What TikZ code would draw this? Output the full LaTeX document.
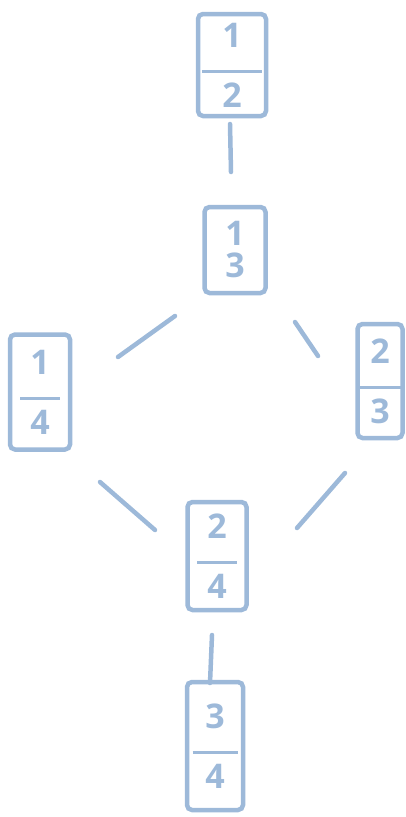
\documentclass[tikz,border=0pt]{standalone}
\usepackage{fontspec}
\setmainfont{Open Sans}
\usetikzlibrary{calc}
\definecolor{pen}{HTML}{9DB9D9}
\newcommand\frc[3]{#1\\[-10pt]\rule{#3}{3.5pt}\\[-2pt]#2}
\tikzset{
  card/.style={draw=pen, line width=4.5pt, rounded corners=5pt, text=pen, inner sep=0pt,
    align=center, font=\fontsize{34}{36}\selectfont\bfseries},
  conn/.style={draw=pen, line width=4.5pt, line cap=round}
}
\begin{document}
\begin{tikzpicture}[x=1pt,y=1pt]
\useasboundingbox (0,0) rectangle (406,-817);
\node[card, minimum width=68pt, minimum height=102pt] (n12) at (232,-65) {\frc{1}{2}{60pt}};
\node[card, minimum width=61pt, minimum height=86pt] (n13) at (235,-250) {1\\[-4pt]3};
\node[card, minimum width=60pt, minimum height=115pt] (n14) at (40,-392) {\frc{1}{4}{40pt}};
\node[card, minimum width=45pt, minimum height=114pt] (n23) at (380,-381) {\frc{2}{3}{45pt}};
\node[card, minimum width=59pt, minimum height=108pt] (n24) at (217,-556) {\frc{2}{4}{40pt}};
\node[card, minimum width=56pt, minimum height=128pt] (n34) at (215,-746) {\frc{3}{4}{45pt}};
\draw[conn] ($(n12)+(-2,-59)$) -- ($(n13)+(-4,78)$);
\draw[conn] ($(n13)+(-60,-66)$) -- ($(n14)+(78,35)$);
\draw[conn] ($(n13)+(60,-72)$) -- ($(n23)+(-62,25)$);
\draw[conn] ($(n14)+(60,-90)$) -- ($(n24)+(-62,26)$);
\draw[conn] ($(n23)+(-35,-92)$) -- ($(n24)+(80,28)$);
\draw[conn] ($(n24)+(-5,-79)$) -- ($(n34)+(-5,63)$);
\end{tikzpicture}
\end{document}
